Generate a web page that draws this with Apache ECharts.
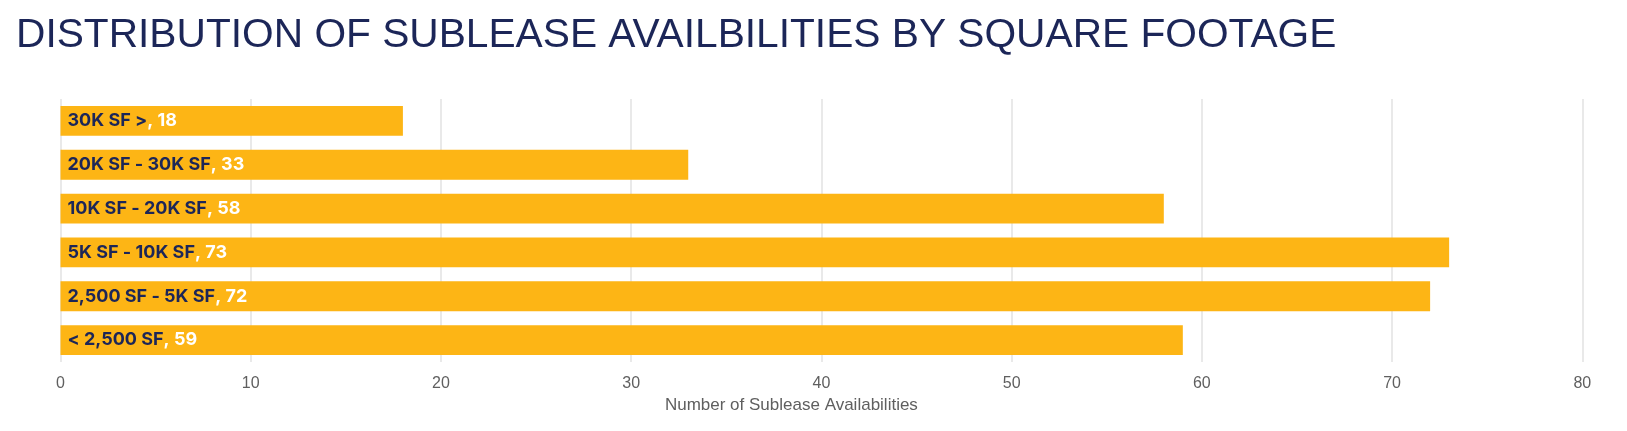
<!DOCTYPE html>
<html>
<head>
<meta charset="utf-8">
<script src="https://cdn.jsdelivr.net/npm/echarts@6/dist/echarts.min.js"></script>
<style>
html,body{margin:0;padding:0;background:#fff;}
#chart{width:1627px;height:431px;}
</style>
</head>
<body>
<div id="chart"></div>
<script>
const titleText = 'DISTRIBUTION OF SUBLEASE AVAILBILITIES BY SQUARE FOOTAGE';
const categories = ['< 2,500 SF', '2,500 SF - 5K SF', '5K SF - 10K SF', '10K SF - 20K SF', '20K SF - 30K SF', '30K SF >'];
const values = [59, 72, 73, 58, 33, 18];
const xTicks = [0, 10, 20, 30, 40, 50, 60, 70, 80];
const xAxisName = 'Number of Sublease Availabilities';

const chart = echarts.init(document.getElementById('chart'));
chart.setOption({
  animation: false,
  backgroundColor: '#fff',
  title: {
    text: titleText,
    left: 11,
    top: 10,
    textStyle: {
      fontFamily: 'Liberation Sans',
      fontWeight: 'normal',
      fontSize: 40.7,
      color: '#1c2658'
    }
  },
  grid: { left: 60.5, right: 44.7, top: 99, bottom: 69, containLabel: false },
  xAxis: {
    type: 'value',
    min: xTicks[0],
    max: xTicks[xTicks.length - 1],
    interval: 10,
    axisLine: { show: false },
    axisTick: { show: false },
    splitLine: { lineStyle: { color: '#e2e2e2', width: 1.5 } },
    axisLabel: {
      fontFamily: 'Liberation Sans',
      fontSize: 16,
      color: '#5f5f5f',
      margin: 14
    },
    name: xAxisName,
    nameLocation: 'middle',
    nameGap: 35,
    nameTextStyle: {
      fontFamily: 'Liberation Sans',
      fontSize: 17,
      color: '#5f5f5f',
      padding: [0, 60, 0, 0]
    }
  },
  yAxis: {
    type: 'category',
    data: categories,
    axisLine: { show: false },
    axisTick: { show: false },
    axisLabel: { show: false },
    splitLine: { show: false }
  },
  series: [{
    type: 'bar',
    data: values,
    barCategoryGap: '32%',
    itemStyle: { color: '#fdb515' },
    label: {
      show: true,
      position: 'insideLeft',
      distance: 7,
      formatter: function (p) {
        return '{c|' + p.name + '}{v|, ' + p.value + '}';
      },
      rich: {
        c: { fontFamily: 'Inter', fontWeight: 'bold', fontSize: 18, color: '#1c2658' },
        v: { fontFamily: 'Inter', fontWeight: 'bold', fontSize: 18, color: '#ffffff' }
      }
    }
  }]
});
</script>
</body>
</html>
